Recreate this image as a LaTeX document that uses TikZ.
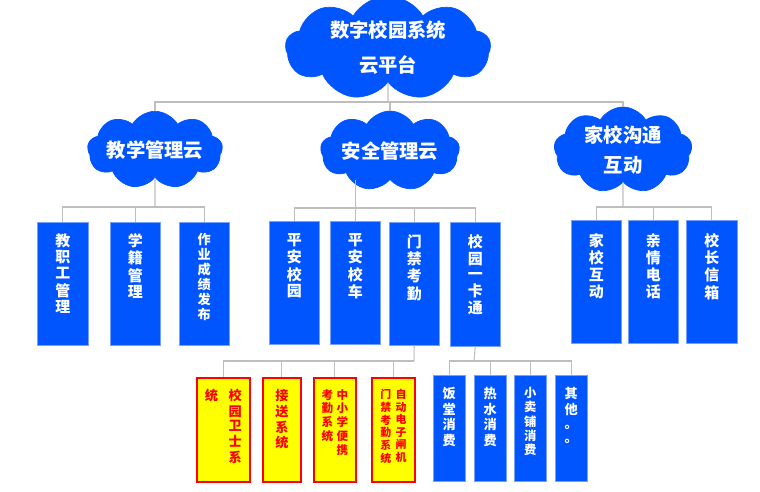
\documentclass[tikz,border=0pt]{standalone}
\usepackage{fontspec}
\newfontfamily\cjk{Noto Sans CJK SC}
\usetikzlibrary{positioning,shapes.symbols}
\usepackage{xcolor}
\definecolor{cloudblue}{RGB}{0,85,255}
\definecolor{edgeblue}{RGB}{120,160,255}
\definecolor{linegray}{RGB}{190,190,190}
\definecolor{boxyellow}{RGB}{255,255,0}
\definecolor{boxred}{RGB}{255,0,0}
\newcommand{\vcol}[1]{\begin{tabular}[t]{@{}c@{}}#1\end{tabular}}
\newcommand{\fs}[2]{\fontsize{#1}{#2}\selectfont}

\tikzset{
  skycloud/.style={cloud, cloud puffs=9, cloud puff arc=120, cloud ignores aspect, fill=cloudblue, draw=cloudblue, text=white, align=center, inner sep=0pt, font=\cjk\bfseries\fs{11}{20}},
  bluebox/.style={anchor=north west, fill=cloudblue, draw=edgeblue, line width=0.3pt, inner sep=0pt},
  yellowbox/.style={anchor=north west, fill=boxyellow, draw=boxred, line width=1pt, inner sep=0pt},
  boxtext/.style={anchor=north, inner sep=0pt, text=white, font=\cjk\bfseries\fs{8.5}{8.6}},
  smalltext/.style={anchor=north, inner sep=0pt, text=white, font=\cjk\bfseries\fs{7.5}{8.2}},
  redtext/.style={smalltext, text=boxred},
  link/.style={draw=linegray, line width=0.6pt}
}

\begin{document}
\begin{tikzpicture}[x=0.02cm, y=-0.02cm]
\useasboundingbox (0,0) rectangle (760,492);

% clouds
\node[skycloud, minimum width=4.1cm, minimum height=1.45cm] (cloudTop) at (388,48) {数字校园系统\\云平台};
\node[skycloud, minimum width=2.7cm, minimum height=1.55cm] (cloudTeach) at (155,150) {教学管理云};
\node[skycloud, minimum width=2.78cm, minimum height=1.6cm] (cloudSafe) at (390,151) {安全管理云};
\node[skycloud, minimum width=2.76cm, minimum height=1.62cm, font=\cjk\bfseries\fs{11}{17}] (cloudHome) at (623,150) {家校沟通\\互动};

\coordinate (busTop) at (388,102);
\draw[link] (cloudTop.south) -- (busTop);
\draw[link] (cloudTeach.north) |- (cloudHome.north |- busTop) -- (cloudHome.north);
\draw[link] (cloudSafe.north) -- (cloudSafe.north |- busTop);

% teaching group
\node[bluebox, minimum width=1.02cm, minimum height=2.46cm] (teachA) at (37,222) {};
\node[bluebox, minimum width=1.0cm, minimum height=2.46cm] (teachB) at (110,222) {};
\node[bluebox, minimum width=1.0cm, minimum height=2.46cm] (teachC) at (179,222) {};
\node[boxtext, below=0.22cm of teachA.north] (teachAt) {\vcol{教\\职\\工\\管\\理}};
\node[boxtext, below=0.22cm of teachB.north] (teachBt) {\vcol{学\\籍\\管\\理}};
\node[boxtext, below=0.22cm of teachC.north, font=\cjk\bfseries\fs{7.5}{7.1}] (teachCt) {\vcol{作\\业\\成\\绩\\发\\布}};

\coordinate (busTeach) at (155,207);
\draw[link] (cloudTeach.south) -- (busTeach);
\draw[link] (teachA.north) |- (teachC.north |- busTeach) -- (teachC.north);
\draw[link] (teachB.north) -- (teachB.north |- busTeach);

% safety group
\node[bluebox, minimum width=1.0cm, minimum height=2.46cm] (safeA) at (269,221) {};
\node[bluebox, minimum width=1.0cm, minimum height=2.46cm] (safeB) at (330,221) {};
\node[bluebox, minimum width=1.0cm, minimum height=2.46cm] (safeC) at (389,222) {};
\node[bluebox, minimum width=1.0cm, minimum height=2.48cm] (safeD) at (450,222) {};
\node[boxtext, below=0.24cm of safeA.north] (safeAt) {\vcol{平\\安\\校\\园}};
\node[boxtext, below=0.24cm of safeB.north] (safeBt) {\vcol{平\\安\\校\\车}};
\node[boxtext, below=0.24cm of safeC.north] (safeCt) {\vcol{门\\禁\\考\\勤}};
\node[boxtext, below=0.24cm of safeD.north] (safeDt) {\vcol{校\\园\\一\\卡\\通}};

\coordinate (busSafe) at (356,208);
\draw[link] (safeB.north) -- (safeB.north |- cloudSafe.south);
\draw[link] (safeA.north) |- (safeD.north |- busSafe) -- (safeD.north);
\draw[link] (safeC.north) -- (safeC.north |- busSafe);

% home group
\node[bluebox, minimum width=1.0cm, minimum height=2.46cm] (homeA) at (571,220) {};
\node[bluebox, minimum width=1.0cm, minimum height=2.46cm] (homeB) at (628,220) {};
\node[bluebox, minimum width=1.02cm, minimum height=2.46cm] (homeC) at (686,220) {};
\node[boxtext, below=0.26cm of homeA.north] (homeAt) {\vcol{家\\校\\互\\动}};
\node[boxtext, below=0.26cm of homeB.north] (homeBt) {\vcol{亲\\情\\电\\话}};
\node[boxtext, below=0.26cm of homeC.north] (homeCt) {\vcol{校\\长\\信\\箱}};

\coordinate (busHome) at (623,207);
\draw[link] (cloudHome.south) -- (busHome);
\draw[link] (homeA.north) |- (homeC.north |- busHome) -- (homeC.north);
\draw[link] (homeB.north) -- (homeB.north |- busHome);

% access control subsystems
\node[yellowbox, minimum width=1.06cm, minimum height=2.08cm] (gateA) at (196,377) {};
\node[yellowbox, minimum width=0.76cm, minimum height=2.08cm] (gateB) at (262,377) {};
\node[yellowbox, minimum width=0.84cm, minimum height=2.08cm] (gateC) at (313,377) {};
\node[yellowbox, minimum width=0.86cm, minimum height=2.08cm] (gateD) at (371,377) {};
\node[redtext, below=0.24cm of gateA.north, font=\cjk\bfseries\fs{7.5}{8.5}] (gateAt) {\vcol{统}\hspace{6pt}\vcol{校\\园\\卫\\士\\系}};
\node[redtext, below=0.24cm of gateB.north, font=\cjk\bfseries\fs{7.5}{8.3}] (gateBt) {\vcol{接\\送\\系\\统}};
\node[redtext, below=0.24cm of gateC.north, font=\cjk\bfseries\fs{6.6}{7.2}] (gateCt) {\vcol{考\\勤\\系\\统}\hspace{2pt}\vcol{中\\小\\学\\便\\携}};
\node[redtext, below=0.24cm of gateD.north, font=\cjk\bfseries\fs{6.2}{6.5}] (gateDt) {\vcol{门\\禁\\考\\勤\\系\\统}\hspace{2.5pt}\vcol{自\\动\\电\\子\\闸\\机}};

\coordinate (busGate) at (414,361);
\draw[link] (safeC.south) -- (busGate);
\draw[link] (gateA.north) |- (busGate);
\draw[link] (gateB.north) -- (gateB.north |- busGate);
\draw[link] (gateC.north) -- (gateC.north |- busGate);
\draw[link] (gateD.north) -- (gateD.north |- busGate);

% card subsystems
\node[bluebox, minimum width=0.64cm, minimum height=2.12cm] (cardA) at (433,375) {};
\node[bluebox, minimum width=0.64cm, minimum height=2.12cm] (cardB) at (474,375) {};
\node[bluebox, minimum width=0.64cm, minimum height=2.12cm] (cardC) at (514,375) {};
\node[bluebox, minimum width=0.64cm, minimum height=2.12cm] (cardD) at (555,375) {};
\node[smalltext, below=0.24cm of cardA.north] (cardAt) {\vcol{饭\\堂\\消\\费}};
\node[smalltext, below=0.24cm of cardB.north] (cardBt) {\vcol{热\\水\\消\\费}};
\node[smalltext, below=0.24cm of cardC.north, font=\cjk\bfseries\fs{7}{7.2}] (cardCt) {\vcol{小\\卖\\铺\\消\\费}};
\node[smalltext, below=0.24cm of cardD.north] (cardDt) {\vcol{其\\他\\。\\。}};

\coordinate (busCard) at (474,361);
\draw[link] (safeD.south) -- (busCard);
\draw[link] (cardA.north) |- (cardD.north |- busCard) -- (cardD.north);
\draw[link] (cardB.north) -- (cardB.north |- busCard);
\draw[link] (cardC.north) -- (cardC.north |- busCard);
\end{tikzpicture}
\end{document}
